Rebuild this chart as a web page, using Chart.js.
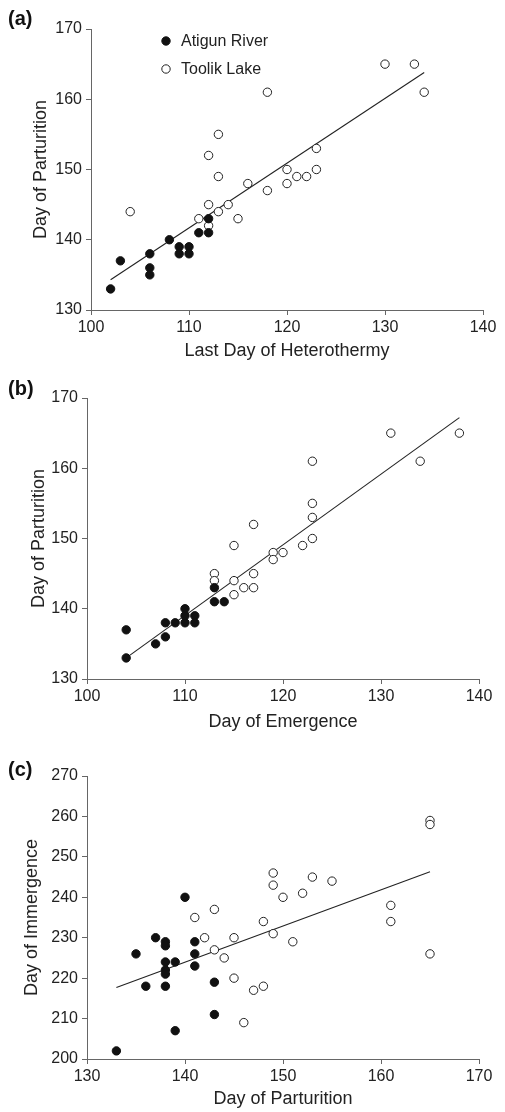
<!DOCTYPE html>
<html>
<head>
<meta charset="utf-8">
<script src="https://cdn.jsdelivr.net/npm/chart.js@4.4.1/dist/chart.umd.min.js"></script>
<style>
  html, body { margin: 0; padding: 0; background: #fff; }
  body { width: 505px; height: 1112px; position: relative; overflow: hidden; font-family: "Liberation Sans", Arial, sans-serif; }
  .panel { position: absolute; left: 0; width: 505px; }
  .tag { position: absolute; left: 8px; font-weight: bold; font-size: 20px; color: #111; }
</style>
</head>
<body>
<div class="panel" style="top:0;height:362px"><canvas id="chartA"></canvas></div>
<div class="panel" style="top:370px;height:363px"><canvas id="chartB"></canvas></div>
<div class="panel" style="top:740px;height:370px"><canvas id="chartC"></canvas></div>
<div class="tag" style="top:7px">(a)</div>
<div class="tag" style="top:377px">(b)</div>
<div class="tag" style="top:758px">(c)</div>
<script>
const seriesNames = ['Atigun River', 'Toolik Lake'];

// (a) last day of heterothermy vs day of parturition
const aAtigunX = [102, 103, 106, 106, 106, 108, 109, 109, 110, 110, 111, 112, 112];
const aAtigunY = [133, 137, 138, 136, 135, 140, 139, 138, 139, 138, 141, 141, 143];
const aToolikX = [104, 111, 112, 112, 113, 114, 115, 113, 112, 113, 116, 118, 118, 120, 120, 121, 122, 123, 123, 130, 133, 134];
const aToolikY = [144, 143, 145, 142, 144, 145, 143, 149, 152, 155, 148, 147, 161, 148, 150, 149, 149, 150, 153, 165, 165, 161];
const aFitX = [102, 134];
const aFitY = [134.3, 163.8];

// (b) day of emergence vs day of parturition
const bAtigunX = [104, 104, 107, 108, 108, 109, 110, 110, 110, 111, 111, 113, 113, 114];
const bAtigunY = [133, 137, 135, 136, 138, 138, 138, 139, 140, 139, 138, 141, 143, 141];
const bToolikX = [113, 113, 115, 115, 115, 116, 117, 117, 117, 119, 119, 120, 122, 123, 123, 123, 123, 131, 134, 138];
const bToolikY = [145, 144, 144, 142, 149, 143, 143, 145, 152, 148, 147, 148, 149, 150, 153, 155, 161, 165, 161, 165];
const bFitX = [104, 138];
const bFitY = [133, 167.2];

// (c) day of parturition vs day of immergence
const cAtigunX = [133, 139, 143, 143, 136, 138, 135, 137, 138, 138, 138, 138, 138, 139, 140, 141, 141, 141];
const cAtigunY = [202, 207, 211, 219, 218, 218, 226, 230, 229, 228, 224, 222, 221, 224, 240, 229, 226, 223];
const cToolikX = [141, 143, 142, 143, 144, 145, 145, 146, 147, 148, 148, 149, 149, 149, 150, 151, 152, 153, 155, 161, 161, 165, 165, 165];
const cToolikY = [235, 237, 230, 227, 225, 230, 220, 209, 217, 218, 234, 231, 243, 246, 240, 229, 241, 245, 244, 238, 234, 259, 258, 226];
const cFitX = [133, 165];
const cFitY = [217.7, 246.3];

const xTitles = ['Last Day of Heterothermy', 'Day of Emergence', 'Day of Parturition'];
const yTitles = ['Day of Parturition', 'Day of Parturition', 'Day of Immergence'];

const fontFamily = '"Liberation Sans", Arial, Helvetica, sans-serif';
const axisColor = '#666';
const textColor = '#222';
const dotRadius = 4.2;

const toPoints = (xs, ys) => xs.map((x, i) => ({ x: x, y: ys[i] }));

function makeDatasets(ax, ay, tx, ty, fx, fy) {
    return [
        {
            label: seriesNames[0],
            data: toPoints(ax, ay),
            pointRadius: dotRadius,
            pointBackgroundColor: '#111',
            pointBorderColor: '#111',
            pointBorderWidth: 1,
            showLine: false,
            order: 1
        },
        {
            label: seriesNames[1],
            data: toPoints(tx, ty),
            pointRadius: dotRadius,
            pointBackgroundColor: '#fff',
            pointBorderColor: '#222',
            pointBorderWidth: 1,
            showLine: false,
            order: 1
        },
        {
            label: 'fit',
            data: toPoints(fx, fy),
            showLine: true,
            pointRadius: 0,
            borderColor: '#222',
            borderWidth: 1.1,
            order: 3
        }
    ];
}

// legend drawn inside panel (a)
const insideLegend = {
    id: 'insideLegend',
    afterDraw(chart) {
        const ctx = chart.ctx;
        const rows = [
            { ds: chart.data.datasets[0], x: 166, y: 41 },
            { ds: chart.data.datasets[1], x: 166, y: 69 }
        ];
        ctx.save();
        ctx.font = '16px ' + fontFamily;
        ctx.textBaseline = 'middle';
        rows.forEach(r => {
            ctx.beginPath();
            ctx.arc(r.x, r.y, dotRadius, 0, Math.PI * 2);
            ctx.fillStyle = r.ds.pointBackgroundColor;
            ctx.fill();
            ctx.lineWidth = 1;
            ctx.strokeStyle = r.ds.pointBorderColor;
            ctx.stroke();
            ctx.fillStyle = textColor;
            ctx.fillText(r.ds.label, r.x + 15, r.y + 1);
        });
        ctx.restore();
    }
};

function makeChart(id, datasets, cfg, extraPlugins) {
    return new Chart(document.getElementById(id), {
        type: 'scatter',
        data: { datasets: datasets },
        options: {
            responsive: true,
            maintainAspectRatio: false,
            animation: false,
            clip: false,
            layout: {
                autoPadding: false,
                padding: { top: cfg.top, right: cfg.right, left: 0, bottom: 0 }
            },
            plugins: {
                legend: { display: false },
                tooltip: { enabled: false }
            },
            scales: {
                x: {
                    type: 'linear',
                    min: cfg.xMin,
                    max: cfg.xMax,
                    afterFit: s => { s.height = cfg.xHeight; },
                    border: { display: true, color: axisColor, width: 1 },
                    grid: { display: true, drawOnChartArea: false, drawTicks: true, tickLength: 5, color: axisColor },
                    ticks: {
                        stepSize: 10,
                        autoSkip: false,
                        maxRotation: 0,
                        padding: 3,
                        color: textColor,
                        font: { size: 16, family: fontFamily }
                    },
                    title: {
                        display: true,
                        text: cfg.xTitle,
                        color: textColor,
                        padding: 0,
                        font: { size: 18, family: fontFamily }
                    }
                },
                y: {
                    type: 'linear',
                    min: cfg.yMin,
                    max: cfg.yMax,
                    afterFit: s => { s.width = cfg.yWidth; },
                    border: { display: true, color: axisColor, width: 1 },
                    grid: { display: true, drawOnChartArea: false, drawTicks: true, tickLength: 5, color: axisColor },
                    ticks: {
                        stepSize: 10,
                        autoSkip: false,
                        padding: 4,
                        color: textColor,
                        font: { size: 16, family: fontFamily }
                    },
                    title: {
                        display: true,
                        text: cfg.yTitle,
                        color: textColor,
                        padding: { top: cfg.yTitlePad, bottom: 0 },
                        font: { size: 18, family: fontFamily }
                    }
                }
            }
        },
        plugins: extraPlugins || []
    });
}

makeChart('chartA', makeDatasets(aAtigunX, aAtigunY, aToolikX, aToolikY, aFitX, aFitY), {
    top: 29, right: 22, xHeight: 52, yWidth: 91, yTitlePad: 30,
    xMin: 100, xMax: 140, yMin: 130, yMax: 170,
    xTitle: xTitles[0], yTitle: yTitles[0]
}, [insideLegend]);

makeChart('chartB', makeDatasets(bAtigunX, bAtigunY, bToolikX, bToolikY, bFitX, bFitY), {
    top: 28, right: 26, xHeight: 54, yWidth: 87, yTitlePad: 28,
    xMin: 100, xMax: 140, yMin: 130, yMax: 170,
    xTitle: xTitles[1], yTitle: yTitles[1]
});

makeChart('chartC', makeDatasets(cAtigunX, cAtigunY, cToolikX, cToolikY, cFitX, cFitY), {
    top: 36, right: 26, xHeight: 51, yWidth: 87, yTitlePad: 21,
    xMin: 130, xMax: 170, yMin: 200, yMax: 270,
    xTitle: xTitles[2], yTitle: yTitles[2]
});
</script>
</body>
</html>
